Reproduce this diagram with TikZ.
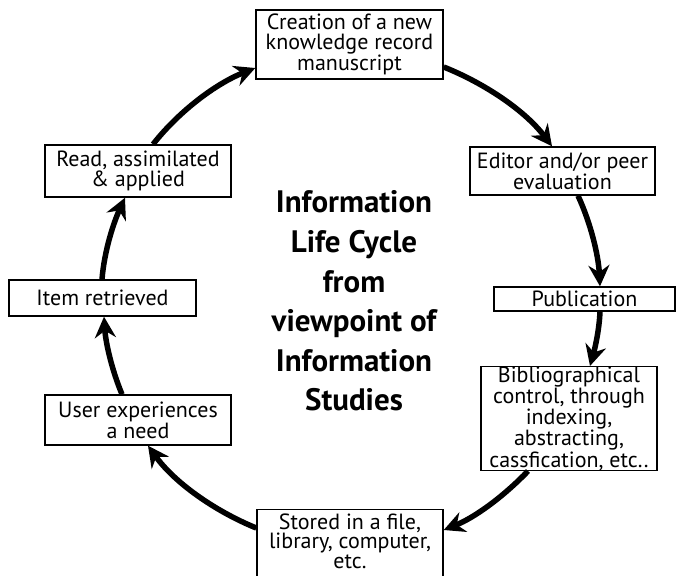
\documentclass[tikz,border=0pt]{standalone}
\usepackage{fontspec}
\newfontfamily\boxfont{PT Sans}
\usetikzlibrary{arrows.meta}
\tikzset{
  box/.style={draw, line width=1.4pt, inner sep=0pt, align=center,
    font=\boxfont\fontsize{22}{19.5}\selectfont},
  titletext/.style={align=center, inner sep=0pt,
    font=\boxfont\bfseries\fontsize{31}{39.6}\selectfont},
  arr/.style={line width=5.5pt, looseness=0.85,
    -{Stealth[length=21pt,width=21pt,inset=7pt]}}
}
\begin{document}
\begin{tikzpicture}[x=1pt,y=1pt]
\useasboundingbox (0,0) rectangle (676,-575);
\node[box, minimum width=187pt, minimum height=69pt] (n1) at (349.5,-44.5) {Creation of a new\\knowledge record\\manuscript};
\node[box, minimum width=185pt, minimum height=48pt] (n2) at (562.5,-171) {Editor and/or peer\\evaluation};
\node[box, minimum width=181pt, minimum height=24pt] (n3) at (584.5,-299) {Publication};
\node[box, minimum width=176pt, minimum height=103pt] (n4) at (569,-418.5) {Bibliographical\\control, through\\indexing,\\abstracting,\\cassfication, etc..};
\node[box, minimum width=186pt, anchor=north, inner ysep=4pt] (n5) at (350,-509) {Stored in a file,\\library, computer,\\etc.\\[30pt]\mbox{}};
\node[box, minimum width=186pt, minimum height=50pt] (n6) at (138,-420) {User experiences\\a need};
\node[box, minimum width=187pt, minimum height=36pt] (n7) at (102.5,-298) {Item retrieved};
\node[box, minimum width=186pt, minimum height=52pt] (n8) at (138,-171) {Read, assimilated\\\& applied};
\node[titletext] (t) at (354,-301) {Information\\Life Cycle\\from\\viewpoint of\\Information\\Studies};
\draw[arr] ([yshift=-22.5pt]n1.east) to[out=-21.8,in=127.1] ([xshift=-10.5pt]n2.north);
\draw[arr] ([xshift=15.5pt]n2.south) to[out=-65.3,in=93] ([xshift=15.5pt]n3.north);
\draw[arr] ([xshift=15.5pt]n3.south) to[out=-92.5,in=74.4] ([xshift=21pt]n4.north);
\draw[arr] ([xshift=-41pt]n4.south) to[out=-133.7,in=22] ([yshift=-21pt]n5.north east);
\draw[arr] ([yshift=-19pt]n5.north west) to[out=157.8,in=-54.3] ([xshift=10pt]n6.south);
\draw[arr] ([xshift=-16pt]n6.north) to[out=112.6,in=-86.3] ([xshift=1.5pt]n7.south);
\draw[arr] ([xshift=-0.5pt]n7.north) to[out=85.4,in=-114.6] ([xshift=-13pt]n8.south);
\draw[arr] ([xshift=15pt]n8.north) to[out=51.8,in=-158.4] ([yshift=-23.5pt]n1.west);
\end{tikzpicture}
\end{document}
